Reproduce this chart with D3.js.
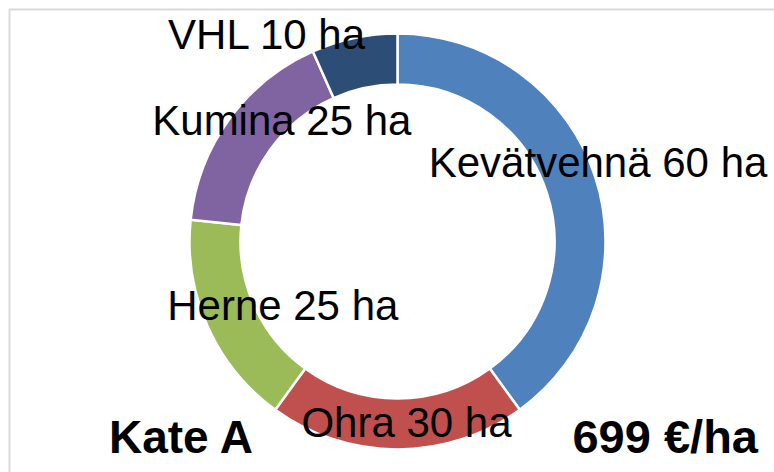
<!DOCTYPE html>
<html>
<head>
<meta charset="utf-8">
<script src="https://cdn.jsdelivr.net/npm/d3@7"></script>
<style>
  html, body { margin: 0; padding: 0; background: #fff; }
  svg { display: block; }
  text { font-family: "Liberation Sans", Arial, sans-serif; fill: #000; }
</style>
</head>
<body>
<svg id="chart" width="774" height="472"></svg>
<script>
const categories = ["Kevätvehnä", "Ohra", "Herne", "Kumina", "VHL"];
const values = [60, 30, 25, 25, 10];
const unit = "ha";
const colors = ["#4F81BD", "#C0504D", "#9BBB59", "#8064A2", "#2C4D75"];
const title = "Kate A";
const summary = "699 €/ha";
// label displacement (baseline) from slice centroid (labels were moved manually in the original)
const labelShift = [[27, -8], [9, 13], [52, 4], [32, 1], [-93, -14]];

const W = 774, H = 472;
const cx = 397.5, cy = 241.5, rOuter = 208, rInner = 157;
const svg = d3.select("#chart");

// frame
svg.append("rect")
  .attr("x", 9.5).attr("y", 9.5)
  .attr("width", W + 20).attr("height", H + 20)
  .attr("fill", "none").attr("stroke", "#D9D9D9").attr("stroke-width", 2);

const pie = d3.pie().sort(null).value(d => d.value);
const arcs = pie(categories.map((c, i) => ({ name: c, value: values[i], color: colors[i] })));
const arc = d3.arc().innerRadius(rInner).outerRadius(rOuter);

const g = svg.append("g").attr("transform", `translate(${cx},${cy})`);
g.selectAll("path").data(arcs).enter().append("path")
  .attr("d", arc)
  .attr("fill", d => d.data.color)
  .attr("stroke", "#fff").attr("stroke-width", 2.5);

g.selectAll("text.lbl").data(arcs).enter().append("text")
  .attr("class", "lbl")
  .attr("x", (d, i) => arc.centroid(d)[0] + labelShift[i][0])
  .attr("y", (d, i) => arc.centroid(d)[1] + labelShift[i][1])
  .attr("text-anchor", "middle")
  .attr("font-size", 42)
  .text(d => `${d.data.name} ${d.data.value} ${unit}`);

svg.append("text")
  .attr("x", 109).attr("y", 453)
  .attr("font-size", 46).attr("font-weight", "bold")
  .text(title);
svg.append("text")
  .attr("x", 758).attr("y", 453)
  .attr("text-anchor", "end")
  .attr("font-size", 47).attr("font-weight", "bold")
  .text(summary);
</script>
</body>
</html>
